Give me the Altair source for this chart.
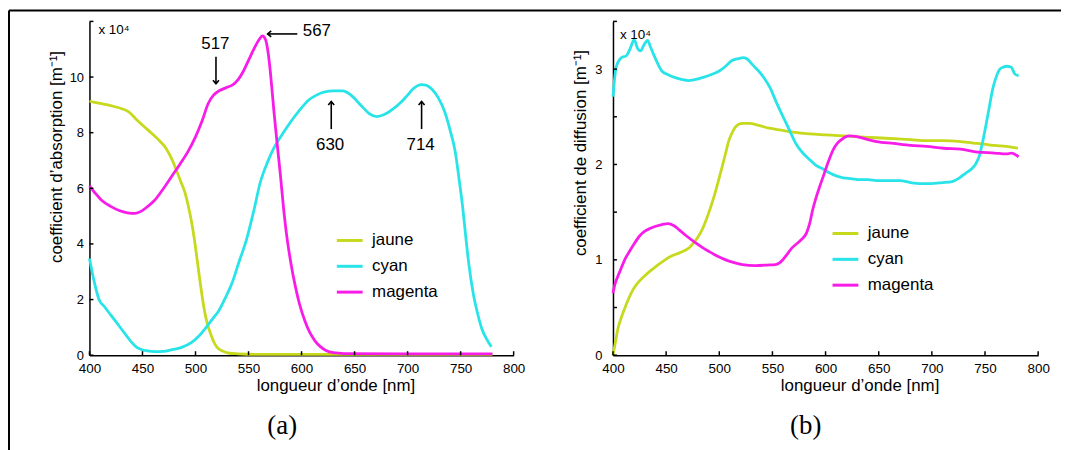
import altair as alt
import pandas as pd

# ---------------- data: panel (a) absorption ----------------
a_jaune_x = [400, 410, 420, 430, 437, 445, 455, 465, 472, 477, 482, 486, 490, 493, 496, 499, 502, 505, 508, 511, 514, 517, 520, 526, 532, 540, 560, 600, 700, 780]
a_jaune_y = [9.13, 9.05, 8.97, 8.87, 8.75, 8.45, 8.1, 7.75, 7.45, 7.1, 6.65, 6.25, 5.85, 5.4, 4.85, 4.15, 3.3, 2.45, 1.7, 1.15, 0.8, 0.5, 0.3, 0.14, 0.07, 0.05, 0.03, 0.03, 0.03, 0.03]

a_cyan_x = [400, 403, 406, 409, 414, 419, 426, 434, 440, 445, 452, 461, 470, 477, 487, 496, 503, 509, 516, 522, 528, 535, 541, 548, 555, 561, 568, 574, 582, 590, 598, 606, 614, 622, 630, 639, 645, 652, 658, 664, 671, 678, 687, 694, 700, 706, 713, 718, 723, 729, 735, 740, 745, 749, 752, 755, 758, 762, 766, 770, 775, 779]
a_cyan_y = [3.48, 2.9, 2.4, 2.0, 1.75, 1.5, 1.15, 0.75, 0.45, 0.27, 0.17, 0.13, 0.14, 0.19, 0.28, 0.45, 0.68, 0.95, 1.3, 1.6, 2.05, 2.65, 3.35, 4.15, 5.2, 6.2, 6.95, 7.45, 7.95, 8.4, 8.8, 9.15, 9.35, 9.47, 9.5, 9.5, 9.4, 9.15, 8.9, 8.68, 8.58, 8.65, 8.87, 9.1, 9.35, 9.6, 9.73, 9.7, 9.56, 9.25, 8.75, 8.1, 7.3, 6.2, 5.3, 4.2, 3.2, 2.2, 1.5, 0.95, 0.55, 0.3]

a_mag_x = [400, 406, 412, 420, 428, 436, 443, 449, 455, 461, 469, 477, 485, 493, 500, 506, 512, 517, 522, 529, 535, 540, 545, 550, 555, 560, 563, 566, 568, 570, 572, 574, 577, 580, 583, 586, 590, 594, 598, 603, 608, 613, 618, 623, 630, 640, 700, 780]
a_mag_y = [6.09, 5.8, 5.55, 5.35, 5.2, 5.12, 5.1, 5.18, 5.35, 5.55, 5.95, 6.4, 6.85, 7.33, 7.85, 8.4, 9.05, 9.35, 9.5, 9.62, 9.72, 9.9, 10.2, 10.6, 11.0, 11.35, 11.48, 11.35, 11.0, 10.4, 9.6, 8.75, 7.6, 6.5, 5.3, 4.3, 3.3, 2.5, 1.85, 1.25, 0.8, 0.5, 0.3, 0.17, 0.09, 0.06, 0.05, 0.05]

# ---------------- data: panel (b) diffusion ----------------
b_jaune_x = [400, 402, 404.7, 408, 411, 415, 419, 425, 431.6, 437, 442.7, 449, 455, 462, 468, 472, 476, 480, 484, 487, 490, 493, 496, 499, 502.8, 506, 509, 512, 515, 518, 522, 528, 537, 547, 558, 569, 585, 601, 616, 632, 648, 664, 680, 695.6, 711, 727, 743, 751, 759, 770, 781]
b_jaune_y = [0.0, 0.12, 0.28, 0.4, 0.49, 0.6, 0.69, 0.78, 0.85, 0.9, 0.95, 1.0, 1.04, 1.07, 1.1, 1.13, 1.18, 1.24, 1.32, 1.4, 1.49, 1.59, 1.7, 1.82, 1.98, 2.12, 2.25, 2.33, 2.39, 2.42, 2.43, 2.43, 2.41, 2.38, 2.36, 2.34, 2.32, 2.31, 2.3, 2.29, 2.28, 2.27, 2.26, 2.25, 2.25, 2.24, 2.22, 2.21, 2.2, 2.19, 2.17]

b_cyan_x = [400, 403, 408, 412.6, 416, 420, 423, 426, 429, 432.6, 435, 438, 442, 446, 452, 458.5, 465, 471, 477, 484, 492, 500, 506, 512, 518, 523, 527, 531, 537, 542, 548, 553, 560, 566, 572, 578.6, 585, 591, 598, 604, 610, 616.6, 625, 632, 640, 648, 660, 670, 680, 690, 699, 710, 719, 726, 732, 738, 741.5, 745, 748, 751, 754, 757, 760, 764, 767, 770, 774.7, 778, 781.6]
b_cyan_y = [2.71, 3.02, 3.12, 3.14, 3.21, 3.31, 3.22, 3.19, 3.25, 3.3, 3.24, 3.16, 3.06, 2.98, 2.94, 2.91, 2.89, 2.88, 2.89, 2.91, 2.94, 2.98, 3.03, 3.09, 3.11, 3.12, 3.1, 3.05, 2.98, 2.91, 2.8, 2.67, 2.5, 2.36, 2.22, 2.12, 2.05, 1.99, 1.95, 1.91, 1.88, 1.86, 1.85, 1.84, 1.84, 1.83, 1.83, 1.83, 1.81, 1.8, 1.8, 1.81, 1.82, 1.86, 1.91, 1.96, 2.01, 2.1, 2.25, 2.42, 2.6, 2.78, 2.9, 3.0, 3.02, 3.03, 3.02, 2.95, 2.93]

b_mag_x = [400, 402, 404.7, 408, 411, 415, 420.6, 425, 430, 435, 439.5, 446, 452, 457, 461.7, 468, 477.5, 484, 490, 498, 506, 514, 521.7, 534, 545, 553, 557, 559.7, 564, 568, 572, 577, 582, 585, 588, 591, 594.5, 598, 601, 604, 607, 611, 615, 619, 623, 630, 640, 648, 664, 680, 695, 711, 727, 743, 759, 770, 775, 781.6]
b_mag_y = [0.65, 0.75, 0.83, 0.92, 1.0, 1.08, 1.18, 1.25, 1.3, 1.33, 1.35, 1.37, 1.38, 1.36, 1.32, 1.26, 1.18, 1.13, 1.09, 1.04, 1.0, 0.97, 0.95, 0.94, 0.945, 0.95, 0.97, 1.0, 1.06, 1.12, 1.16, 1.21, 1.28, 1.38, 1.53, 1.65, 1.77, 1.88, 1.98, 2.07, 2.15, 2.22, 2.26, 2.29, 2.3, 2.29, 2.26, 2.24, 2.22, 2.2, 2.19, 2.17, 2.16, 2.13, 2.12, 2.11, 2.12, 2.08]

series_names = ["jaune", "cyan", "magenta"]
series_colors = ["#c6d91c", "#28e4e8", "#f81ce8"]

x_ticks = [400, 450, 500, 550, 600, 650, 700, 750, 800]
a_y_ticks = [0, 2, 4, 6, 8, 10, 12]
b_y_ticks = [0, 0.5, 1, 1.5, 2, 2.5, 3, 3.5]

# annotations of panel (a)
ann_text = ["517", "567", "630", "714"]
ann_tx = [518.7, 614.4, 627.0, 712.3]
ann_ty = [11.2, 11.65, 7.57, 7.57]
arr_x1 = [519.3, 596.0, 628.0, 713.2]
arr_y1 = [10.73, 11.55, 8.13, 8.13]
arr_x2 = [519.3, 568.0, 628.0, 713.2]
arr_y2 = [9.76, 11.55, 9.12, 9.12]
arr_head = ["M-1,-1.2L0,0L1,-1.2", "M1.2,-1L0,0L1.2,1", "M-1,1.2L0,0L1,1.2", "M-1,1.2L0,0L1,1.2"]

FONT = "Liberation Sans"
X_TITLE = "longueur d’onde [nm]"
W_A, W_B, H = 427, 428, 336


def make_df(xs_list, ys_list):
    rows = []
    for n, xs, ys in zip(series_names, xs_list, ys_list):
        for x, y in zip(xs, ys):
            rows.append({"lam": x, "val": y, "serie": n})
    return pd.DataFrame(rows)


def axes(ymax, yticks, ytitle, label_expr, ylabpad, ytitle_xy, width):
    xscale = alt.Scale(domain=[400, 800], nice=False, zero=False)
    yscale = alt.Scale(domain=[0, ymax], nice=False, zero=True)
    xaxis = alt.Axis(values=x_ticks, ticks=False, grid=False, domainColor="black",
                     domainWidth=1.5, labelFont=FONT, labelFontSize=13.5,
                     labelColor="black", labelPadding=6, labelFlush=False,
                     labelOverlap=False, title=X_TITLE, titleFont=FONT,
                     titleFontSize=17, titleFontWeight="normal", titleColor="black",
                     titleX=width * 0.58, titleY=31, titleBaseline="middle")
    yaxis = alt.Axis(values=yticks, ticks=False, grid=False, domainColor="black",
                     domainWidth=1.5, labelFont=FONT, labelFontSize=13,
                     labelColor="black", labelPadding=ylabpad, labelExpr=label_expr,
                     labelOverlap=False, labelFlush=False, title=ytitle, titleFont=FONT,
                     titleFontSize=17, titleFontWeight="normal", titleColor="black",
                     titleX=ytitle_xy[0], titleY=ytitle_xy[1], titleBaseline="middle",
                     titleAngle=270)
    return xscale, yscale, xaxis, yaxis


def panel(df, ax, yticks, ytitle, legend_xy, pow_xy, caption, caption_xy):
    xscale, yscale, xaxis, yaxis = ax
    lines = alt.Chart(df).mark_line(strokeWidth=2.8, interpolate="monotone").encode(
        x=alt.X("lam:Q", scale=xscale, axis=xaxis, title=X_TITLE),
        y=alt.Y("val:Q", scale=yscale, axis=yaxis, title=ytitle),
        color=alt.Color("serie:N", sort=series_names,
                        scale=alt.Scale(domain=series_names, range=series_colors),
                        legend=alt.Legend(title=None, orient="none",
                                          legendX=legend_xy[0], legendY=legend_xy[1],
                                          symbolType="stroke", symbolSize=676,
                                          symbolStrokeWidth=3, labelFont=FONT,
                                          labelFontSize=17, labelColor="black",
                                          labelOffset=8, rowPadding=3, padding=0)),
    )
    xt = alt.Chart(pd.DataFrame({"t": x_ticks})).mark_rule(color="black", strokeWidth=1.5).encode(
        x=alt.X("t:Q", scale=xscale, axis=xaxis, title=X_TITLE),
        y=alt.value(H), y2=alt.value(H - 4))
    yt = alt.Chart(pd.DataFrame({"t": yticks})).mark_rule(color="black", strokeWidth=1.5).encode(
        y=alt.Y("t:Q", scale=yscale, axis=yaxis, title=ytitle),
        x=alt.value(0), x2=alt.value(4))
    one = pd.DataFrame({"k": [0]})
    powt = alt.Chart(one).mark_text(text="x 10⁴", font=FONT, fontSize=13.5, align="left",
                                    baseline="middle", color="black").encode(
        x=alt.value(pow_xy[0]), y=alt.value(pow_xy[1]))
    cap = alt.Chart(one).mark_text(text=caption, font="Liberation Serif", fontSize=27,
                                   align="center", baseline="middle", color="black").encode(
        x=alt.value(caption_xy[0]), y=alt.value(caption_xy[1]))
    return [lines, xt, yt, powt, cap]


df_a = make_df([a_jaune_x, a_cyan_x, a_mag_x], [a_jaune_y, a_cyan_y, a_mag_y])
df_b = make_df([b_jaune_x, b_cyan_x, b_mag_x], [b_jaune_y, b_cyan_y, b_mag_y])

YT_A = "coefficient d’absorption [m⁻¹]"
YT_B = "coefficient de diffusion [m⁻¹]"
ax_a = axes(12, a_y_ticks, YT_A, "datum.value == 12 ? '' : datum.label", 6, (-33, 136), W_A)
ax_b = axes(3.5, b_y_ticks, YT_B, "datum.value % 1 == 0 ? '' + datum.value : ''", 11, (-33, 132), W_B)

layers_a = panel(df_a, ax_a, a_y_ticks, YT_A, (247.5, 206), (9, 9), "(a)", (194, 407))
layers_b = panel(df_b, ax_b, b_y_ticks, YT_B, (219.5, 199), (7, 14), "(b)", (194, 407))

# annotations (a)
xs_a, ys_a, xax_a, yax_a = ax_a
ann_df = pd.DataFrame({"tx": ann_tx, "ty": ann_ty, "txt": ann_text})
arr_df = pd.DataFrame({"x1": arr_x1, "y1": arr_y1, "x2": arr_x2, "y2": arr_y2, "head": arr_head})
ann_txt = alt.Chart(ann_df).mark_text(font=FONT, fontSize=17, color="black",
                                      align="center", baseline="middle").encode(
    x=alt.X("tx:Q", scale=xs_a, axis=xax_a, title=X_TITLE),
    y=alt.Y("ty:Q", scale=ys_a, axis=yax_a, title=YT_A),
    text="txt:N")
arr_rule = alt.Chart(arr_df).mark_rule(color="black", strokeWidth=1.6).encode(
    x=alt.X("x1:Q", scale=xs_a, axis=xax_a, title=X_TITLE), x2="x2:Q",
    y=alt.Y("y1:Q", scale=ys_a, axis=yax_a, title=YT_A), y2="y2:Q")
arr_tip = alt.Chart(arr_df).mark_point(filled=False, color="black", strokeWidth=1.6,
                                       size=36, opacity=1).encode(
    x=alt.X("x2:Q", scale=xs_a, axis=xax_a, title=X_TITLE),
    y=alt.Y("y2:Q", scale=ys_a, axis=yax_a, title=YT_A),
    shape=alt.Shape("head:N", scale=None, legend=None))

# outer frame (top and left lines)
one = pd.DataFrame({"k": [0]})
frame_top = alt.Chart(one).mark_rule(color="black", strokeWidth=2).encode(
    x=alt.value(-81), x2=alt.value(978), y=alt.value(-11))
frame_left = alt.Chart(one).mark_rule(color="black", strokeWidth=2).encode(
    x=alt.value(-81), y=alt.value(-11), y2=alt.value(440))

left = alt.layer(*layers_a, ann_txt, arr_rule, arr_tip, frame_top, frame_left).properties(
    width=W_A, height=H)
right = alt.layer(*layers_b).properties(width=W_B, height=H)

chart = alt.hconcat(left, right, spacing=100, bounds="flush").resolve_scale(
    x="independent", y="independent", color="independent").resolve_legend(
    color="independent").properties(padding=0, background="white").configure_view(
    stroke=None)

chart.save("out.html", embed_options={"renderer": "svg", "actions": False})
